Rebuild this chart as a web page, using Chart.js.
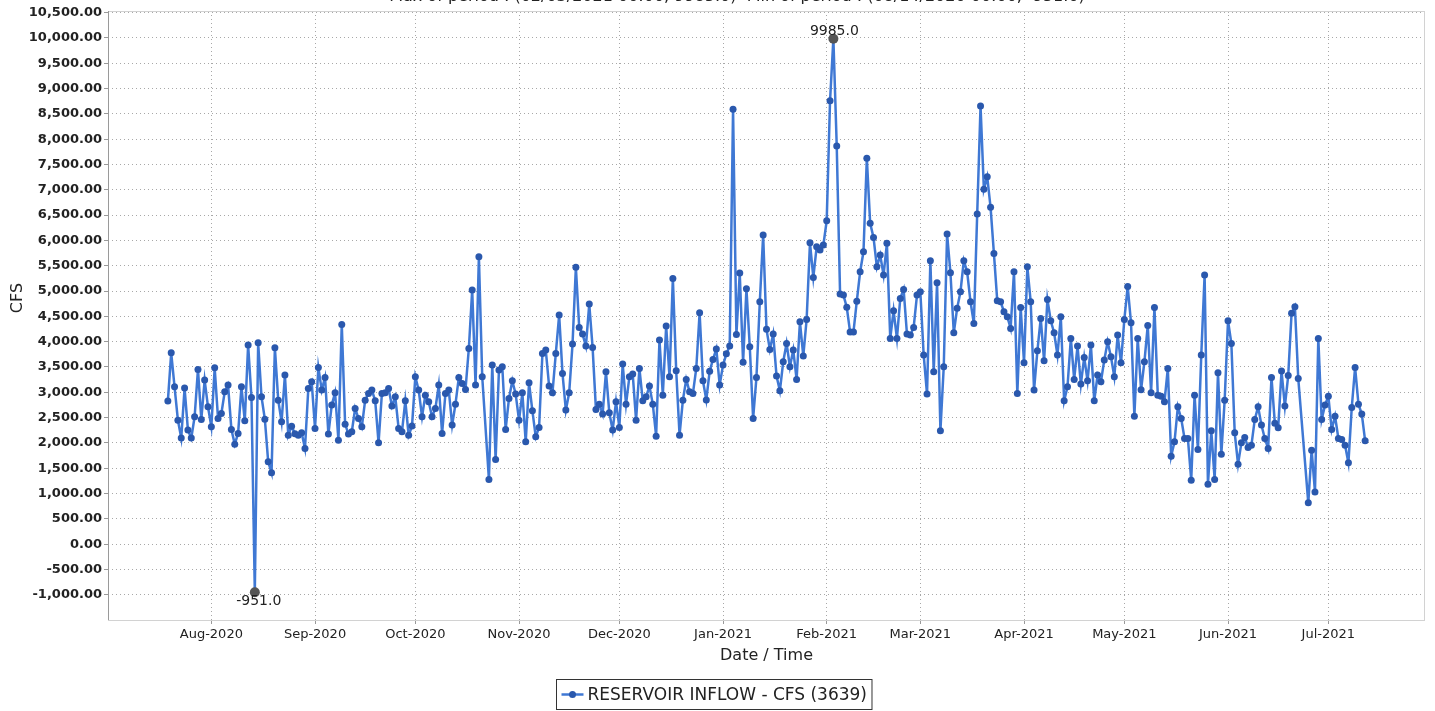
<!DOCTYPE html>
<html>
<head>
<meta charset="utf-8">
<script src="https://cdn.jsdelivr.net/npm/chart.js@4.4.1/dist/chart.umd.min.js"></script>
<style>
  html, body { margin: 0; padding: 0; background: #fff; }
  #wrap { width: 1435px; height: 711px; }
</style>
</head>
<body>
<div id="wrap"><canvas id="inflow" width="1435" height="711"></canvas></div>
<script>
/* ─────────────────────────────────────────
   DATA — daily reservoir inflow (CFS)
───────────────────────────────────────── */
const startDate = '2020-07-19';
const seriesName = 'RESERVOIR INFLOW - CFS (3639)';

// one value per day from startDate, null = no reading that day
const inflowCfs = [
    2826, 3780, 3108, 2450, 2095, 3083, 2253, 2095, 2516, 3452,
    2464, 3241, 2713, 2318, 3484, 2484, 2582, 3010, 3142, 2266,
    1976, 2187, 3108, 2437, 3932, 2898, -951, 3978, 2911, 2470,
    1626, 1409, 3879, 2845, 2417, 3340, 2154, 2330, 2180, 2150,
    2200, 1891, 3076, 3207, 2286, 3491, 3043, 3294, 2174, 2747,
    2990, 2055, 4341, 2371, 2174, 2220, 2681, 2484, 2318, 2845,
    2977, 3043, 2832, 2002, 2977, 2990, 3076, 2727, 2911, 2286,
    2220, 2832, 2154, 2332, 3306, 3043, 2516, 2944, 2812, 2516,
    2681, 3142, 2187, 2977, 3043, 2352, 2766, 3294, 3175, 3057,
    3867, 5019, 3142, 5677, 3306, null, 1278, 3537, 1674, 3438,
    3504, 2266, 2878, 3228, 2964, 2450, 2990, 2022, 3188, 2634,
    2121, 2306, 3768, 3834, 3122, 2990, 3768, 4525, 3373, 2648,
    2990, 3952, 5468, 4282, 4150, 3913, 4743, 3887, 2662, 2766,
    2569, 3405, 2595, 2253, 2812, 2306, 3557, 2766, 3306, 3359,
    2450, 3471, 2832, 2911, 3122, 2766, 2134, 4031, 2944, 4308,
    3306, 5250, 3425, 2154, 2845, 3254, 3010, 2977, 3471, 4571,
    3228, 2850, 3415, 3649, 3857, 3142, 3537, 3760, 3913, 8590,
    4140, 5355, 3593, 5043, 3900, 2484, 3294, 4788, 6106, 4243,
    3847, 4150, 3320, 3030, 3603, 3966, 3504, 3834, 3254, 4393,
    3715, 4440, 5954, 5270, 5875, 5809, 5908, 6388, 8760, 9985,
    7865, 4940, 4920, 4680, 4190, 4190, 4800, 5381, 5776, 7622,
    6337, 6060, 5480, 5711, 5316, 5942, 4065, 4611, 4065, 4855,
    5033, 4150, 4130, 4282, 4920, 4986, 3735, 2964, 5598, 3405,
    5164, 2239, 3504, 6126, 5362, 4176, 4658, 4986, 5598, 5381,
    4788, 4361, 6521, 8655, 7009, 7258, 6653, 5744, 4808, 4788,
    4591, 4492, 4262, 5381, 2977, 4677, 3583, 5480, 4788, 3043,
    3820, 4460, 3622, 4835, 4413, 4176, 3735, 4492, 2832, 3108,
    4065, 3254, 3913, 3162, 3689, 3228, 3932, 2832, 3340, 3208,
    3636, 3998, 3702, 3306, 4130, 3583, 4440, 5090, 4373, 2529,
    4065, 3050, 3603, 4320, 2990, 4677, 2944, 2924, 2812, 3471,
    1739, 2022, 2713, 2484, 2088, 2088, 1265, 2944, 1871, 3735,
    5316, 1186, 2239, 1278, 3386, 1778, 2845, 4413, 3966, 2200,
    1581, 2002, 2108, 1911, 1956, 2464, 2713, 2352, 2088, 1891,
    3294, 2390, 2300, 3420, 2727, 3330, 4559, 4690, 3274, null,
    null, 816, 1857, 1033, 4065, 2464, 2747, 2924, 2266, 2529,
    2088, 2068, 1956, 1606, 2700, 3491, 2766, 2569, 2041
];

const monthTickDates = [
    '2020-08-01', '2020-09-01', '2020-10-01', '2020-11-01', '2020-12-01', '2021-01-01',
    '2021-02-01', '2021-03-01', '2021-04-01', '2021-05-01', '2021-06-01', '2021-07-01'
];
const monthTickLabels = [
    'Aug-2020', 'Sep-2020', 'Oct-2020', 'Nov-2020', 'Dec-2020', 'Jan-2021',
    'Feb-2021', 'Mar-2021', 'Apr-2021', 'May-2021', 'Jun-2021', 'Jul-2021'
];
const cfsTicks = [
    -1000, -500, 0, 500, 1000, 1500, 2000, 2500, 3000, 3500, 4000, 4500,
    5000, 5500, 6000, 6500, 7000, 7500, 8000, 8500, 9000, 9500, 10000, 10500
];

/* ─────────────────────────────────────────
   HELPERS
───────────────────────────────────────── */
const DAY = 86400000;
function dayOffset(iso) {
    return (Date.parse(iso) - Date.parse(startDate)) / DAY;
}
function fmtDate(i) {
    const d = new Date(Date.parse(startDate) + i * DAY);
    const p = n => String(n).padStart(2, '0');
    return p(d.getUTCMonth() + 1) + '/' + p(d.getUTCDate()) + '/' + d.getUTCFullYear() + ' 00:00';
}
function fmtCfs(v) {
    return v.toLocaleString('en-US', {minimumFractionDigits: 2, maximumFractionDigits: 2});
}

const valid = inflowCfs.filter(v => v !== null);
const maxVal = Math.max(...valid);
const minVal = Math.min(...valid);
const maxIdx = inflowCfs.indexOf(maxVal);
const minIdx = inflowCfs.indexOf(minVal);

// auto-range with 5% margin on both axes
const yPad = (maxVal - minVal) * 0.05;
const lastDay = inflowCfs.length - 1;
const xPad = lastDay * 0.05;

const points = inflowCfs.map((v, i) => ({x: i, y: v}));
const tickDays = monthTickDates.map(dayOffset);

const FONT = 'DejaVu Sans';
const LINE_BLUE = '#3f78d4';
const DOT_BLUE = '#2a58ad';

/* ─────────────────────────────────────────
   DECORATIONS — title, axis names, legend, extremes
───────────────────────────────────────── */
const decorations = {
    id: 'decorations',
    beforeDatasetsDraw(chart) {
        const {ctx, chartArea: a} = chart;
        ctx.save();
        ctx.strokeStyle = '#d2d2d2';
        ctx.lineWidth = 1;
        ctx.strokeRect(a.left + 0.5, a.top + 0.5, a.right - a.left - 1, a.bottom - a.top);
        ctx.strokeStyle = '#9a9a9a';
        ctx.beginPath();
        ctx.moveTo(a.left + 0.5, a.top);
        ctx.lineTo(a.left + 0.5, a.bottom);
        ctx.stroke();
        ctx.restore();
    },
    afterDraw(chart) {
        const {ctx, chartArea: a} = chart;
        const meta = chart.getDatasetMeta(0);
        ctx.save();
        ctx.fillStyle = '#222';

        // subtitle (top of canvas)
        ctx.font = '16px "' + FONT + '"';
        ctx.textAlign = 'center';
        ctx.textBaseline = 'alphabetic';
        ctx.fillText('Max of period : (' + fmtDate(maxIdx) + ', ' + maxVal.toFixed(1) + ')  Min of period : ('
            + fmtDate(minIdx) + ', ' + minVal.toFixed(1) + ')', 737, 1);

        // axis names
        ctx.font = '16px "' + FONT + '"';
        ctx.textBaseline = 'middle';
        ctx.fillText('Date / Time', (a.left + a.right) / 2, 656);
        ctx.save();
        ctx.translate(18, 298);
        ctx.rotate(-Math.PI / 2);
        ctx.fillText('CFS', 0, 0);
        ctx.restore();

        // extremes
        ctx.font = '14px "' + FONT + '"';
        const pMax = meta.data[maxIdx];
        const pMin = meta.data[minIdx];
        ctx.textBaseline = 'alphabetic';
        ctx.fillText(maxVal.toFixed(1), pMax.x + 1, pMax.y - 4);
        ctx.textBaseline = 'top';
        ctx.fillText(minVal.toFixed(1), pMin.x + 4, pMin.y + 2);

        // legend box
        ctx.font = '17px "' + FONT + '"';
        const tw = ctx.measureText(seriesName).width;
        const boxW = tw + 36;
        const bx = Math.round(714 - boxW / 2) + 0.5;
        const by = 679.5;
        ctx.strokeStyle = '#333';
        ctx.lineWidth = 1;
        ctx.strokeRect(bx, by, boxW, 30);
        ctx.strokeStyle = LINE_BLUE;
        ctx.lineWidth = 2.5;
        ctx.beginPath();
        ctx.moveTo(bx + 5, by + 15);
        ctx.lineTo(bx + 27, by + 15);
        ctx.stroke();
        ctx.fillStyle = DOT_BLUE;
        ctx.beginPath();
        ctx.arc(bx + 16, by + 15, 3.5, 0, Math.PI * 2);
        ctx.fill();
        ctx.fillStyle = '#222';
        ctx.textAlign = 'left';
        ctx.textBaseline = 'middle';
        ctx.fillText(seriesName, bx + 31, by + 16);
        ctx.restore();
    }
};

/* ─────────────────────────────────────────
   CHART
───────────────────────────────────────── */
const isExtreme = c => c.raw && (c.raw.y === maxVal || c.raw.y === minVal);

new Chart(document.getElementById('inflow'), {
    type: 'line',
    data: {
        datasets: [{
            label: seriesName,
            data: points,
            borderColor: LINE_BLUE,
            borderWidth: 2.5,
            tension: 0,
            spanGaps: true,
            pointRadius: c => isExtreme(c) ? 5 : 3.5,
            pointBackgroundColor: c => isExtreme(c) ? '#555' : DOT_BLUE,
            pointBorderWidth: 0,
        }]
    },
    options: {
        responsive: false,
        animation: false,
        layout: {padding: {top: 11, right: 10, left: 0, bottom: 0}},
        plugins: {
            legend: {display: false},
            tooltip: {enabled: false},
        },
        scales: {
            x: {
                type: 'linear',
                min: -xPad,
                max: lastDay + xPad,
                afterFit: s => { s.height = 91; },
                afterBuildTicks: s => { s.ticks = tickDays.map(v => ({value: v})); },
                ticks: {
                    autoSkip: false,
                    maxRotation: 0,
                    padding: 3,
                    color: '#222',
                    font: {family: FONT, size: 13},
                    callback: (v, i) => monthTickLabels[i],
                },
                grid: {
                    color: '#a8a8a8',
                    tickColor: '#9a9a9a',
                    tickLength: 4,
                    tickBorderDash: [],
                },
                border: {display: false, dash: [1, 3]},
            },
            y: {
                min: minVal - yPad,
                max: maxVal + yPad,
                afterFit: s => { s.width = 108; },
                afterBuildTicks: s => { s.ticks = cfsTicks.map(v => ({value: v})); },
                ticks: {
                    padding: 2,
                    color: '#222',
                    font: {family: FONT, size: 13, weight: 'bold'},
                    callback: v => fmtCfs(v),
                },
                grid: {
                    color: '#a8a8a8',
                    tickColor: '#9a9a9a',
                    tickLength: 4,
                    tickBorderDash: [],
                },
                border: {display: false, dash: [1, 3]},
            }
        }
    },
    plugins: [decorations]
});
</script>
</body>
</html>
